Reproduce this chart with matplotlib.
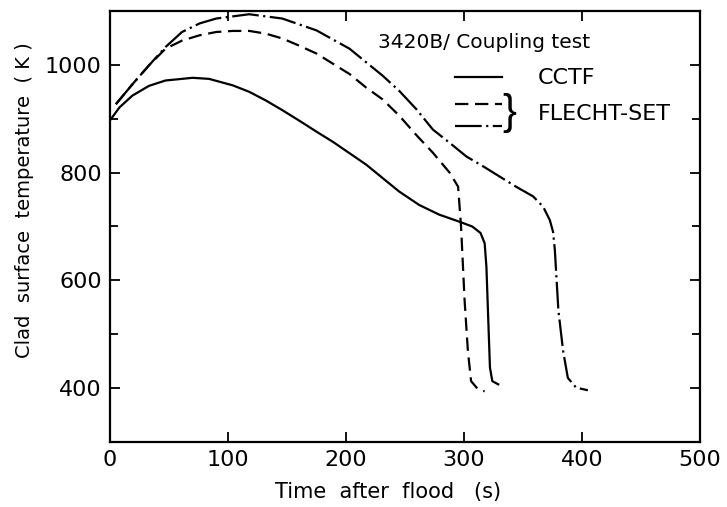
import matplotlib
matplotlib.use('Agg')
import matplotlib.pyplot as plt
from matplotlib.lines import Line2D
from matplotlib.ticker import MultipleLocator

# CCTF (solid)
t_cctf = [0, 8, 19, 33, 47, 70, 84, 104, 118, 132, 146, 160, 175, 189, 217, 245,
          262, 279, 296, 307, 314, 317.5, 319, 320.5, 322, 324, 329]
T_cctf = [897, 921, 943, 961, 971, 976, 974, 962, 950, 934, 916, 897, 876, 857, 815, 765,
          740, 722, 709, 700, 688, 669, 625, 531, 438, 413, 407]

# FLECHT-SET, dashed
t_fs1 = [5, 19, 33, 47, 61, 76, 90, 104, 118, 132, 146, 160, 175, 189, 203, 217, 231,
         245, 259.5, 273.6, 287.8, 295, 297.5, 300.5, 303.3, 306, 311.8, 317.5]
T_fs1 = [927, 964, 999, 1030, 1045, 1055, 1061, 1063, 1063, 1058, 1049, 1036, 1021, 1002,
         983, 958, 936, 906, 870, 837, 800, 774, 700, 563, 469, 413, 398, 394]

# FLECHT-SET, dash-dot
t_fs2 = [5, 19, 33, 47, 61, 76, 90, 118, 146, 175, 203, 231, 245, 259.5, 273.6, 288,
         302, 316, 330, 344, 358.5, 367, 372.7, 375.5, 377, 380, 384, 388, 395, 405]
T_fs2 = [927, 964, 999, 1033, 1061, 1077, 1086, 1094, 1086, 1064, 1030, 980, 952, 918,
         880, 855, 830, 812, 793, 774, 756, 737, 712, 690, 656, 544, 469, 419, 401, 396]

W, H = 727, 507
fig = plt.figure(figsize=(W / 100, H / 100), dpi=100)
ax = fig.add_axes([110 / W, 1 - 442 / H, 590 / W, 431 / H])

lw = 1.6
ax.plot(t_cctf, T_cctf, color='black', lw=lw)
ax.plot(t_fs1, T_fs1, color='black', lw=lw, dashes=[6, 3])
ax.plot(t_fs2, T_fs2, color='black', lw=lw, dashes=[12, 2, 1, 2])

ax.set_xlim(0, 500)
ax.set_ylim(300, 1100)
ax.xaxis.set_major_locator(MultipleLocator(100))
ax.yaxis.set_minor_locator(MultipleLocator(100))
ax.set_yticks([400, 600, 800, 1000])
ax.tick_params(which='both', direction='in', top=True, right=True, width=1.3,
               labelsize=16, pad=6)
ax.tick_params(which='major', length=7)
ax.tick_params(which='minor', length=6)
for s in ax.spines.values():
    s.set_linewidth(1.6)

fig.text(388 / W, 1 - 492 / H, 'Time  after  flood   (s)', fontsize=15,
         ha='center', va='center')
fig.text(25 / W, 1 - 200 / H, 'Clad  surface  temperature  ( K )', fontsize=14,
         ha='center', va='center', rotation=90)

# annotation and hand-drawn legend
fig.text(378 / W, 1 - 42 / H, '3420B/ Coupling test', fontsize=14.5, va='center')
legend_y = [77, 104, 126]
styles = [dict(), dict(dashes=[6, 3]), dict(dashes=[12, 2, 1, 2])]
for y, st in zip(legend_y, styles):
    fig.add_artist(Line2D([455 / W, 502 / W], [1 - y / H, 1 - y / H],
                          color='black', lw=lw, **st))
fig.text(538 / W, 1 - 78 / H, 'CCTF', fontsize=16, va='center')
fig.text(538 / W, 1 - 114 / H, 'FLECHT-SET', fontsize=16, va='center')
fig.text(509 / W, 1 - 113 / H, '}', fontsize=30, va='center', ha='center',
         family='Liberation Sans')

fig.savefig('out.png', dpi=100)
